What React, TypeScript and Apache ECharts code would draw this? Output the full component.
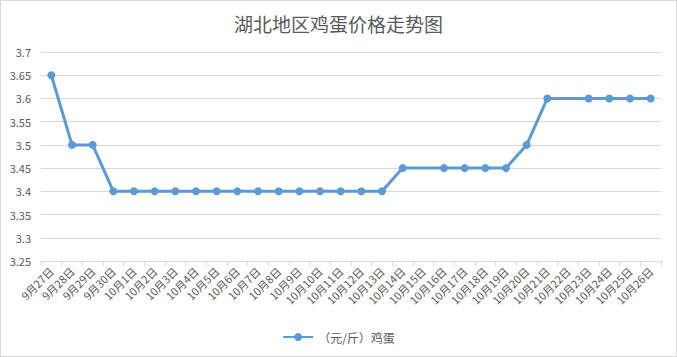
import React, { useEffect, useRef } from "react";
import * as echarts from "echarts";

const categories = [
  "9月27日", "9月28日", "9月29日", "9月30日",
  "10月1日", "10月2日", "10月3日", "10月4日", "10月5日", "10月6日", "10月7日",
  "10月8日", "10月9日", "10月10日", "10月11日", "10月12日", "10月13日", "10月14日",
  "10月15日", "10月16日", "10月17日", "10月18日", "10月19日", "10月20日", "10月21日",
  "10月22日", "10月23日", "10月24日", "10月25日", "10月26日",
];
const prices = [
  3.65, 3.5, 3.5, 3.4,
  3.4, 3.4, 3.4, 3.4, 3.4, 3.4, 3.4,
  3.4, 3.4, 3.4, 3.4, 3.4, 3.4, 3.45,
  3.45, 3.45, 3.45, 3.45, 3.45, 3.5, 3.6,
  3.6, 3.6, 3.6, 3.6, 3.6,
];
const noMarkerDays = ["10月15日", "10月22日"];
const yTicks = { min: 3.25, max: 3.7, interval: 0.05 };
const seriesName = "（元/斤）鸡蛋";
const titleText = "湖北地区鸡蛋价格走势图";

const FONT = "'Noto Sans CJK SC', 'Microsoft YaHei', sans-serif";
const TXT = "#595959";
const LINE = "#5b9bd5";

export default function App() {
  const ref = useRef<HTMLDivElement>(null);
  useEffect(() => {
    if (!ref.current) return;
    const chart = echarts.init(ref.current, null, { renderer: "svg" });
    const data = prices.map((v, i) =>
      noMarkerDays.includes(categories[i]) ? { value: v, symbol: "none" } : v
    );
    chart.setOption({
      animation: false,
      textStyle: { fontFamily: FONT },
      title: {
        text: titleText,
        left: "center",
        top: 8,
        textStyle: { fontFamily: FONT, fontSize: 19, fontWeight: "normal", color: TXT },
      },
      grid: { left: 40, right: 15, top: 51, bottom: 95, containLabel: false },
      legend: {
        bottom: 8,
        left: "center",
        itemWidth: 30,
        itemHeight: 10,
        itemGap: 6,
        textStyle: { fontFamily: FONT, fontSize: 12, color: TXT },
        data: [seriesName],
      },
      xAxis: {
        type: "category",
        data: categories,
        boundaryGap: true,
        axisLine: { lineStyle: { color: "#d9d9d9", width: 1 } },
        axisTick: { show: true, length: 5, lineStyle: { color: "#d9d9d9" } },
        axisLabel: {
          interval: 0,
          rotate: 45,
          color: TXT,
          fontSize: 11,
          fontFamily: FONT,
          margin: 8,
        },
      },
      yAxis: {
        type: "value",
        min: yTicks.min,
        max: yTicks.max,
        interval: yTicks.interval,
        axisLine: { show: false },
        axisTick: { show: false },
        splitLine: { lineStyle: { color: "#d9d9d9", width: 1 } },
        axisLabel: {
          color: TXT,
          fontSize: 11,
          fontFamily: FONT,
          margin: 10,
          formatter: (v: number) => String(parseFloat(v.toFixed(2))),
        },
      },
      series: [
        {
          name: seriesName,
          type: "line",
          data,
          symbol: "circle",
          symbolSize: 8,
          showAllSymbol: true,
          lineStyle: { color: LINE, width: 3 },
          itemStyle: { color: LINE },
        },
      ],
    });
    return () => chart.dispose();
  }, []);
  return (
    <div
      style={{
        position: "fixed",
        left: 0,
        top: 0,
        width: 677,
        height: 357,
        boxSizing: "border-box",
        border: "1px solid #d9d9d9",
        background: "#fff",
      }}
    >
      <div ref={ref} style={{ width: 675, height: 355 }} />
    </div>
  );
}
